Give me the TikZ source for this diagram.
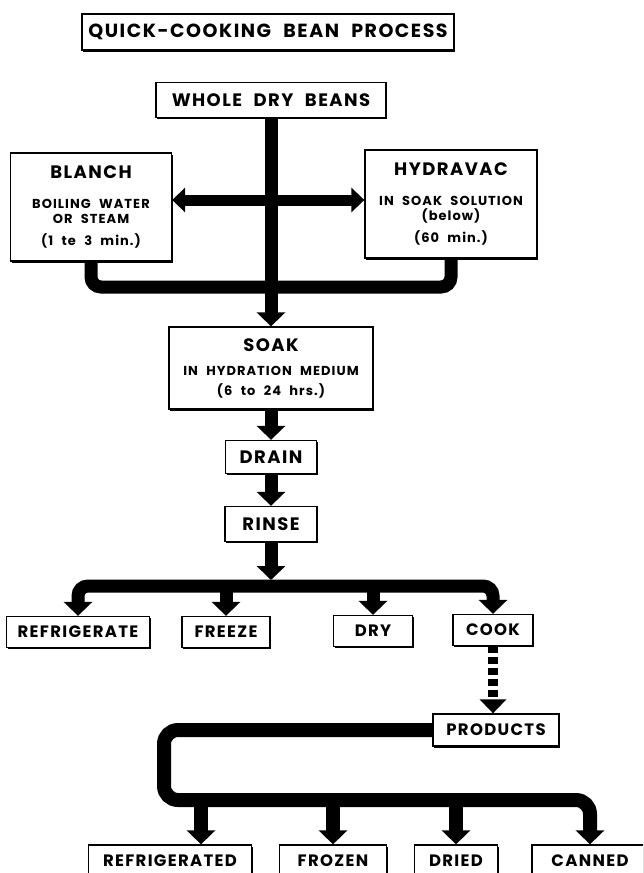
\documentclass[tikz,border=0pt]{standalone}
\usepackage{fontspec}
\setmainfont{Poppins}[LetterSpace=8, WordSpace=2.2]
\usetikzlibrary{arrows.meta,positioning,shadows}
\newcommand{\subtxt}{\fontsize{13}{14.5}\selectfont}
\tikzset{
block/.style = {draw, fill=white, rectangle, line width=1.3pt, inner sep=0pt, align=center,
  font=\bfseries\fontsize{18}{20}\selectfont,
  drop shadow={shadow xshift=1.2pt, shadow yshift=-1.8pt, opacity=1, fill=black}},
endbox/.style = {block, font=\bfseries\fontsize{16.5}{18}\selectfont, minimum height=31pt},
tmp/.style  = {coordinate},
flow/.style = {line width=13pt},
dbl/.style  = {line width=11pt, >={Triangle[width=24pt,length=13pt]}},
dots/.style = {line width=10pt, dash pattern=on 7pt off 4pt, >={Triangle[width=26pt,length=14pt]}}
}
\begin{document}
\begin{tikzpicture}[x=1pt, y=-1pt, node distance=67pt, >={Triangle[width=28pt,length=14pt]}]
  \useasboundingbox (0,0) rectangle (643,873);
  \clip (0,0) rectangle (643,873);

  \node [block, minimum width=372pt, minimum height=36pt, font=\bfseries\fontsize{19}{20}\selectfont] (title) at (268,32) {QUICK-COOKING BEAN PROCESS};
  \node [block, minimum width=230pt, minimum height=35pt] (beans)    at (271,100) {WHOLE DRY BEANS};
  \node [block, minimum width=161pt, minimum height=108pt] (blanch)  at (91,207)
        {BLANCH\\[10pt]\subtxt BOILING WATER\\[-5pt] \subtxt OR STEAM\\[2pt]\subtxt (1 te 3 min.)};
  \node [block, minimum width=172pt, minimum height=108pt] (hydravac) at (451,204)
        {HYDRAVAC\\[10pt]\subtxt IN SOAK SOLUTION\\[-5pt] \subtxt (below)\\[2pt]\subtxt (60 min.)};
  \node [block, minimum width=204pt, minimum height=82pt]  (soak)    at (271,368)
        {SOAK\\[4pt]\subtxt IN HYDRATION MEDIUM\\[0pt]\subtxt (6 to 24 hrs.)};
  \node [block, minimum width=91pt, minimum height=33pt, below of=soak, node distance=89pt] (drain) {DRAIN};
  \node [block, minimum width=92pt, minimum height=35pt, below of=drain] (rinse) {RINSE};

  \node [endbox, minimum width=143pt] (refrig) at (78,632)  {REFRIGERATE};
  \node [endbox, minimum width=88pt]  (freeze) at (226,632) {FREEZE};
  \node [endbox, minimum width=79pt]  (dry)    at (373,631) {DRY};
  \node [endbox, minimum width=80pt]  (cook)   at (493,630) {COOK};
  \node [endbox, minimum width=126pt, minimum height=32pt] (products) at (496,730) {PRODUCTS};

  \node [endbox, minimum width=163pt, minimum height=32pt] (refrigd) at (170,861) {REFRIGERATED};
  \node [endbox, minimum width=107pt, minimum height=32pt] (frozen)  at (333,861) {FROZEN};
  \node [endbox, minimum width=83pt,  minimum height=32pt] (dried)   at (456,861) {DRIED};
  \node [endbox, minimum width=116pt, minimum height=32pt] (canned)  at (590,861) {CANNED};

  \node [tmp] (split) at (271,200) {};
  \node [tmp] (merge) at (271,287) {};
  \node [tmp] (fork)  at (271,586) {};
  \node [tmp] (bend)  at (164,800) {};

  \draw [flow, ->] (beans) -- (soak);
  \draw [dbl, <->] (blanch.east |- split) -- (hydravac.west |- split);
  \draw [flow, rounded corners=10pt] (blanch.south) |- (merge) -| (hydravac.south);
  \draw [flow, ->] (soak) -- (drain);
  \draw [flow, ->] (drain) -- (rinse);
  \draw [flow, ->] (rinse) -- ([yshift=6pt]fork);

  \draw [flow, rounded corners=10pt, ->] (fork) -| (refrig);
  \draw [flow, rounded corners=10pt, ->] (fork) -| (cook);
  \draw [flow, ->] (fork -| freeze) -- (freeze);
  \draw [flow, ->] (fork -| dry) -- (dry);
  \draw [dots, ->] (cook.south) -- (cook.south |- products.north);

  \draw [flow, line width=14pt, rounded corners=14pt, ->] (products.west) -| (bend) -| (canned);
  \draw [flow, line width=14pt, ->] ([xshift=31pt]refrigd.north |- bend) -- ([xshift=31pt]refrigd.north);
  \draw [flow, line width=14pt, ->] (bend -| frozen) -- (frozen);
  \draw [flow, line width=14pt, ->] (bend -| dried) -- (dried);
\end{tikzpicture}
\end{document}
